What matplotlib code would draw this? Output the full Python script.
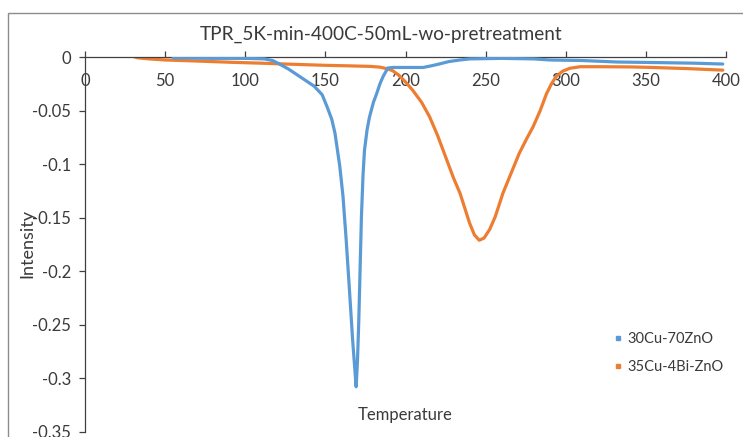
import matplotlib
matplotlib.use("Agg")
import matplotlib.pyplot as plt
from matplotlib.lines import Line2D
from matplotlib.patches import Rectangle

plt.rcParams['font.family'] = ['Lato', 'DejaVu Sans']

# 30Cu-70ZnO profile
temp_cu_zno = [55, 80, 100, 112, 117, 121, 127, 134, 139, 143, 148, 151, 154, 156,
               159, 161, 163, 165, 167, 168.3, 169.2, 170, 170.8, 171.7, 172.5,
               173.5, 174.4, 176, 177.5, 180, 182, 184, 186, 189, 192, 200, 211,
               216, 221, 227, 234, 240, 260, 280, 290, 310, 332, 360, 380, 398]
int_cu_zno = [-0.0005, -0.001, -0.001, -0.0015, -0.003, -0.006, -0.011, -0.018,
              -0.023, -0.027, -0.035, -0.046, -0.058, -0.071, -0.102, -0.13,
              -0.171, -0.217, -0.264, -0.290, -0.308, -0.285, -0.249, -0.196,
              -0.149, -0.110, -0.087, -0.068, -0.056, -0.042, -0.034, -0.025,
              -0.018, -0.010, -0.0095, -0.0095, -0.0095, -0.008, -0.0063, -0.004,
              -0.0025, -0.0015, -0.001, -0.0015, -0.0025, -0.003, -0.0044,
              -0.005, -0.0055, -0.0063]

# 35Cu-4Bi-ZnO profile
temp_cu_bi = [30, 33, 40, 50, 70, 92, 110, 129, 150, 165, 178, 184, 188, 192, 196,
              200, 204.6, 210, 215, 220, 225, 230, 234, 240, 243, 246, 249, 252.5,
              256, 260.8, 266, 271, 276, 279.6, 284, 288, 291, 294, 298, 302.5,
              309, 321, 340, 352, 375, 398]
int_cu_bi = [0.0008, -0.0005, -0.0015, -0.0025, -0.0035, -0.0047, -0.0055,
             -0.0065, -0.0075, -0.008, -0.0085, -0.0092, -0.0105, -0.0125,
             -0.017, -0.023, -0.031, -0.042, -0.0555, -0.073, -0.093, -0.113,
             -0.127, -0.155, -0.166, -0.171, -0.169, -0.161, -0.149, -0.127,
             -0.108, -0.0897, -0.075, -0.065, -0.050, -0.034, -0.025, -0.018,
             -0.013, -0.0103, -0.0088, -0.0088, -0.009, -0.0094, -0.0105, -0.012]

series_names = ["30Cu-70ZnO", "35Cu-4Bi-ZnO"]
series_colors = ["#5B9BD5", "#ED7D31"]
x_ticks = [0, 50, 100, 150, 200, 250, 300, 350, 400]
y_ticks = [0, -0.05, -0.1, -0.15, -0.2, -0.25, -0.3, -0.35]
y_tick_labels = ["0", "-0.05", "-0.1", "-0.15", "-0.2", "-0.25", "-0.3", "-0.35"]

W, H = 743, 437
fig = plt.figure(figsize=(W / 100, H / 100), dpi=100)
text_color = "#3a3a3a"
axis_color = "#404040"

# chart border
fig.patches.append(Rectangle((8 / W, -0.2), 1.5, 1.2 - 13 / H,
                             transform=fig.transFigure, fill=False,
                             ec="#8c8c8c", lw=1.0))

left_px, right_px = 85, 726
top_px, bottom_px = 57.3, 431.7
ax = fig.add_axes([left_px / W, (H - bottom_px) / H,
                   (right_px - left_px) / W, (bottom_px - top_px) / H])

ax.plot(temp_cu_zno, int_cu_zno, color=series_colors[0], lw=2.3,
        solid_capstyle='round', solid_joinstyle='round', zorder=3)
ax.plot(temp_cu_bi, int_cu_bi, color=series_colors[1], lw=2.3,
        solid_capstyle='round', solid_joinstyle='round', zorder=2)

ax.set_xlim(0, 400)
ax.set_ylim(-0.35, 0)

for s in ["right", "bottom"]:
    ax.spines[s].set_visible(False)
ax.spines["top"].set_color(axis_color)
ax.spines["left"].set_color(axis_color)
ax.spines["top"].set_linewidth(0.9)
ax.spines["left"].set_linewidth(0.9)

ax.set_xticks(x_ticks)
ax.set_xticklabels([str(t) for t in x_ticks])
ax.tick_params(axis='x', top=True, bottom=False, labeltop=True, labelbottom=False,
               direction='out', length=4, width=0.9, color=axis_color,
               labelsize=12, labelcolor=text_color, pad=-27)
for lbl in ax.get_xticklabels():
    lbl.set_verticalalignment('bottom')

ax.set_yticks(y_ticks)
ax.set_yticklabels(y_tick_labels)
ax.tick_params(axis='y', left=True, direction='out', length=4, width=0.9,
               color=axis_color, labelsize=12, labelcolor=text_color, pad=6)

ax.set_xlabel("Temperature", fontsize=12, color=text_color)
ax.xaxis.set_label_coords((405 - left_px) / (right_px - left_px),
                          (bottom_px - 415) / (bottom_px - top_px))
ax.xaxis.label.set_verticalalignment('center')
ax.set_ylabel("Intensity", fontsize=13, color=text_color)
ax.yaxis.set_label_coords((27 - left_px) / (right_px - left_px),
                          (bottom_px - 244) / (bottom_px - top_px))
ax.yaxis.label.set_verticalalignment('center')

fig.text(381 / W, 1 - 34 / H, "TPR_5K-min-400C-50mL-wo-pretreatment",
         ha='center', va='center', fontsize=13.7, color=text_color)

handles = [Line2D([], [], color=c, marker='s', markersize=3, lw=0) for c in series_colors]
fig.legend(handles, series_names, loc='upper left',
           bbox_to_anchor=(600 / W, 1 - 319 / H), frameon=False,
           handlelength=0.6, handletextpad=0.35, labelspacing=0.95,
           prop={'size': 10.5}, labelcolor=text_color)

fig.savefig("out.png", dpi=100)
